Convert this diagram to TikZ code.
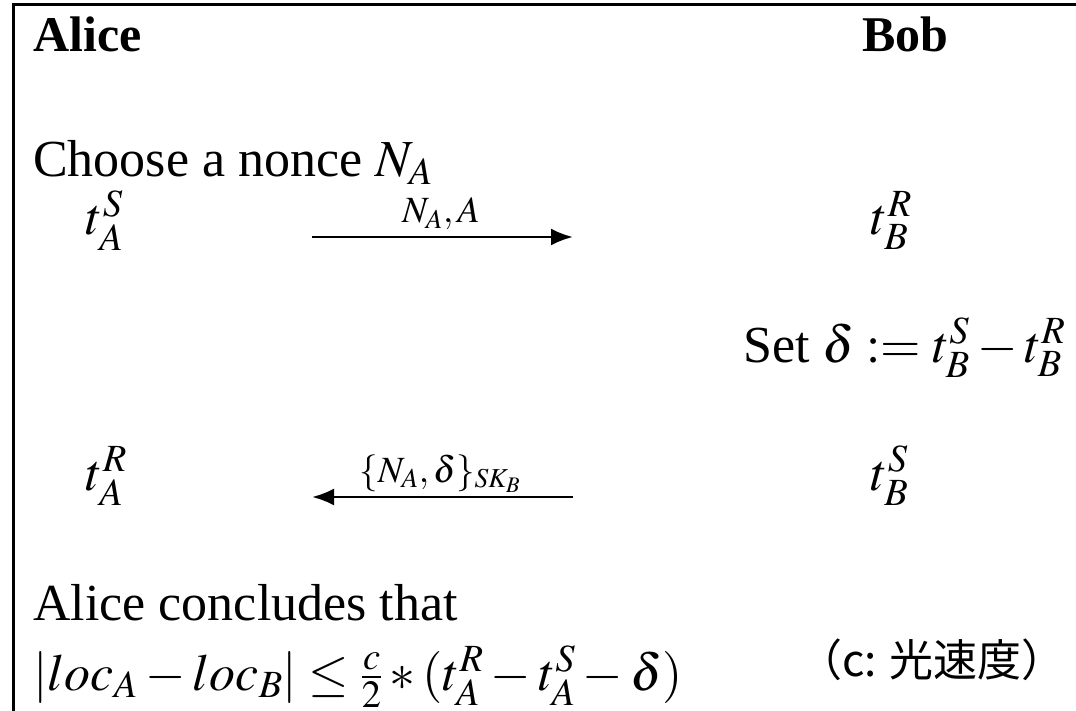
\documentclass[tikz,border=0pt]{standalone}
\usepackage{mathptmx}
\usepackage[no-math]{fontspec}
\setmainfont{Liberation Serif}
\newfontfamily\cjk{Noto Sans CJK JP}
\usetikzlibrary{arrows.meta}
\tikzset{
  main/.style={anchor=base west, inner sep=0pt, font=\fontsize{52}{62}\selectfont},
  head/.style={anchor=base west, inner sep=0pt, font=\fontsize{50}{60}\selectfont\bfseries},
  msg/.style={anchor=base, inner sep=0pt, font=\fontsize{37}{44}\selectfont},
  msgarrow/.style={line width=2.8pt, -{Latex[length=22pt,width=17pt]}},
  frameline/.style={line width=3pt}
}
\begin{document}
\begin{tikzpicture}[x=1pt,y=-1pt]
\useasboundingbox (0,0) rectangle (1076,711);
\coordinate (fb) at (13,711);
\coordinate (fc) at (13,5);
\coordinate (fr) at (1076,5);
\draw[frameline] (fb) -- (fc) -- (fr);
\node[head] (alice) at (33,52) {Alice};
\node[head] (bob) at (862,52) {Bob};
\node[main] (choose) at (33,177) {Choose a nonce $N_A$};
\node[main] (tas) at (86,235) {$t_A^S$};
\node[main] (tbr) at (871,235) {$t_B^R$};
\coordinate (a1s) at (312,237);
\coordinate (a1e) at (573,237);
\draw[msgarrow] (a1s) -- (a1e);
\node[msg] (l1) at (441,223) {$N_A,A$};
\node[main] (set) at (743,362) {Set $\delta := t_B^S - t_B^R$};
\node[main] (tar) at (86,490) {$t_A^R$};
\node[main] (tbs) at (871,490) {$t_B^S$};
\coordinate (a2s) at (573,497);
\coordinate (a2e) at (312,497);
\draw[msgarrow] (a2s) -- (a2e);
\node[msg] (l2) at (440,482) {$\{N_A,\delta\}_{SK_B}$};
\node[main] (concl) at (33,620) {Alice concludes that};
\node[main] (formula) at (33,690) {$|loc_A - loc_B| \le \frac{c}{2} * (t_A^R - t_A^S - \delta)$};
\node[anchor=base, inner sep=0pt, font=\cjk\fontsize{44}{50}\selectfont] (note) at (932,676) {（c: 光速度）};
\end{tikzpicture}
\end{document}
